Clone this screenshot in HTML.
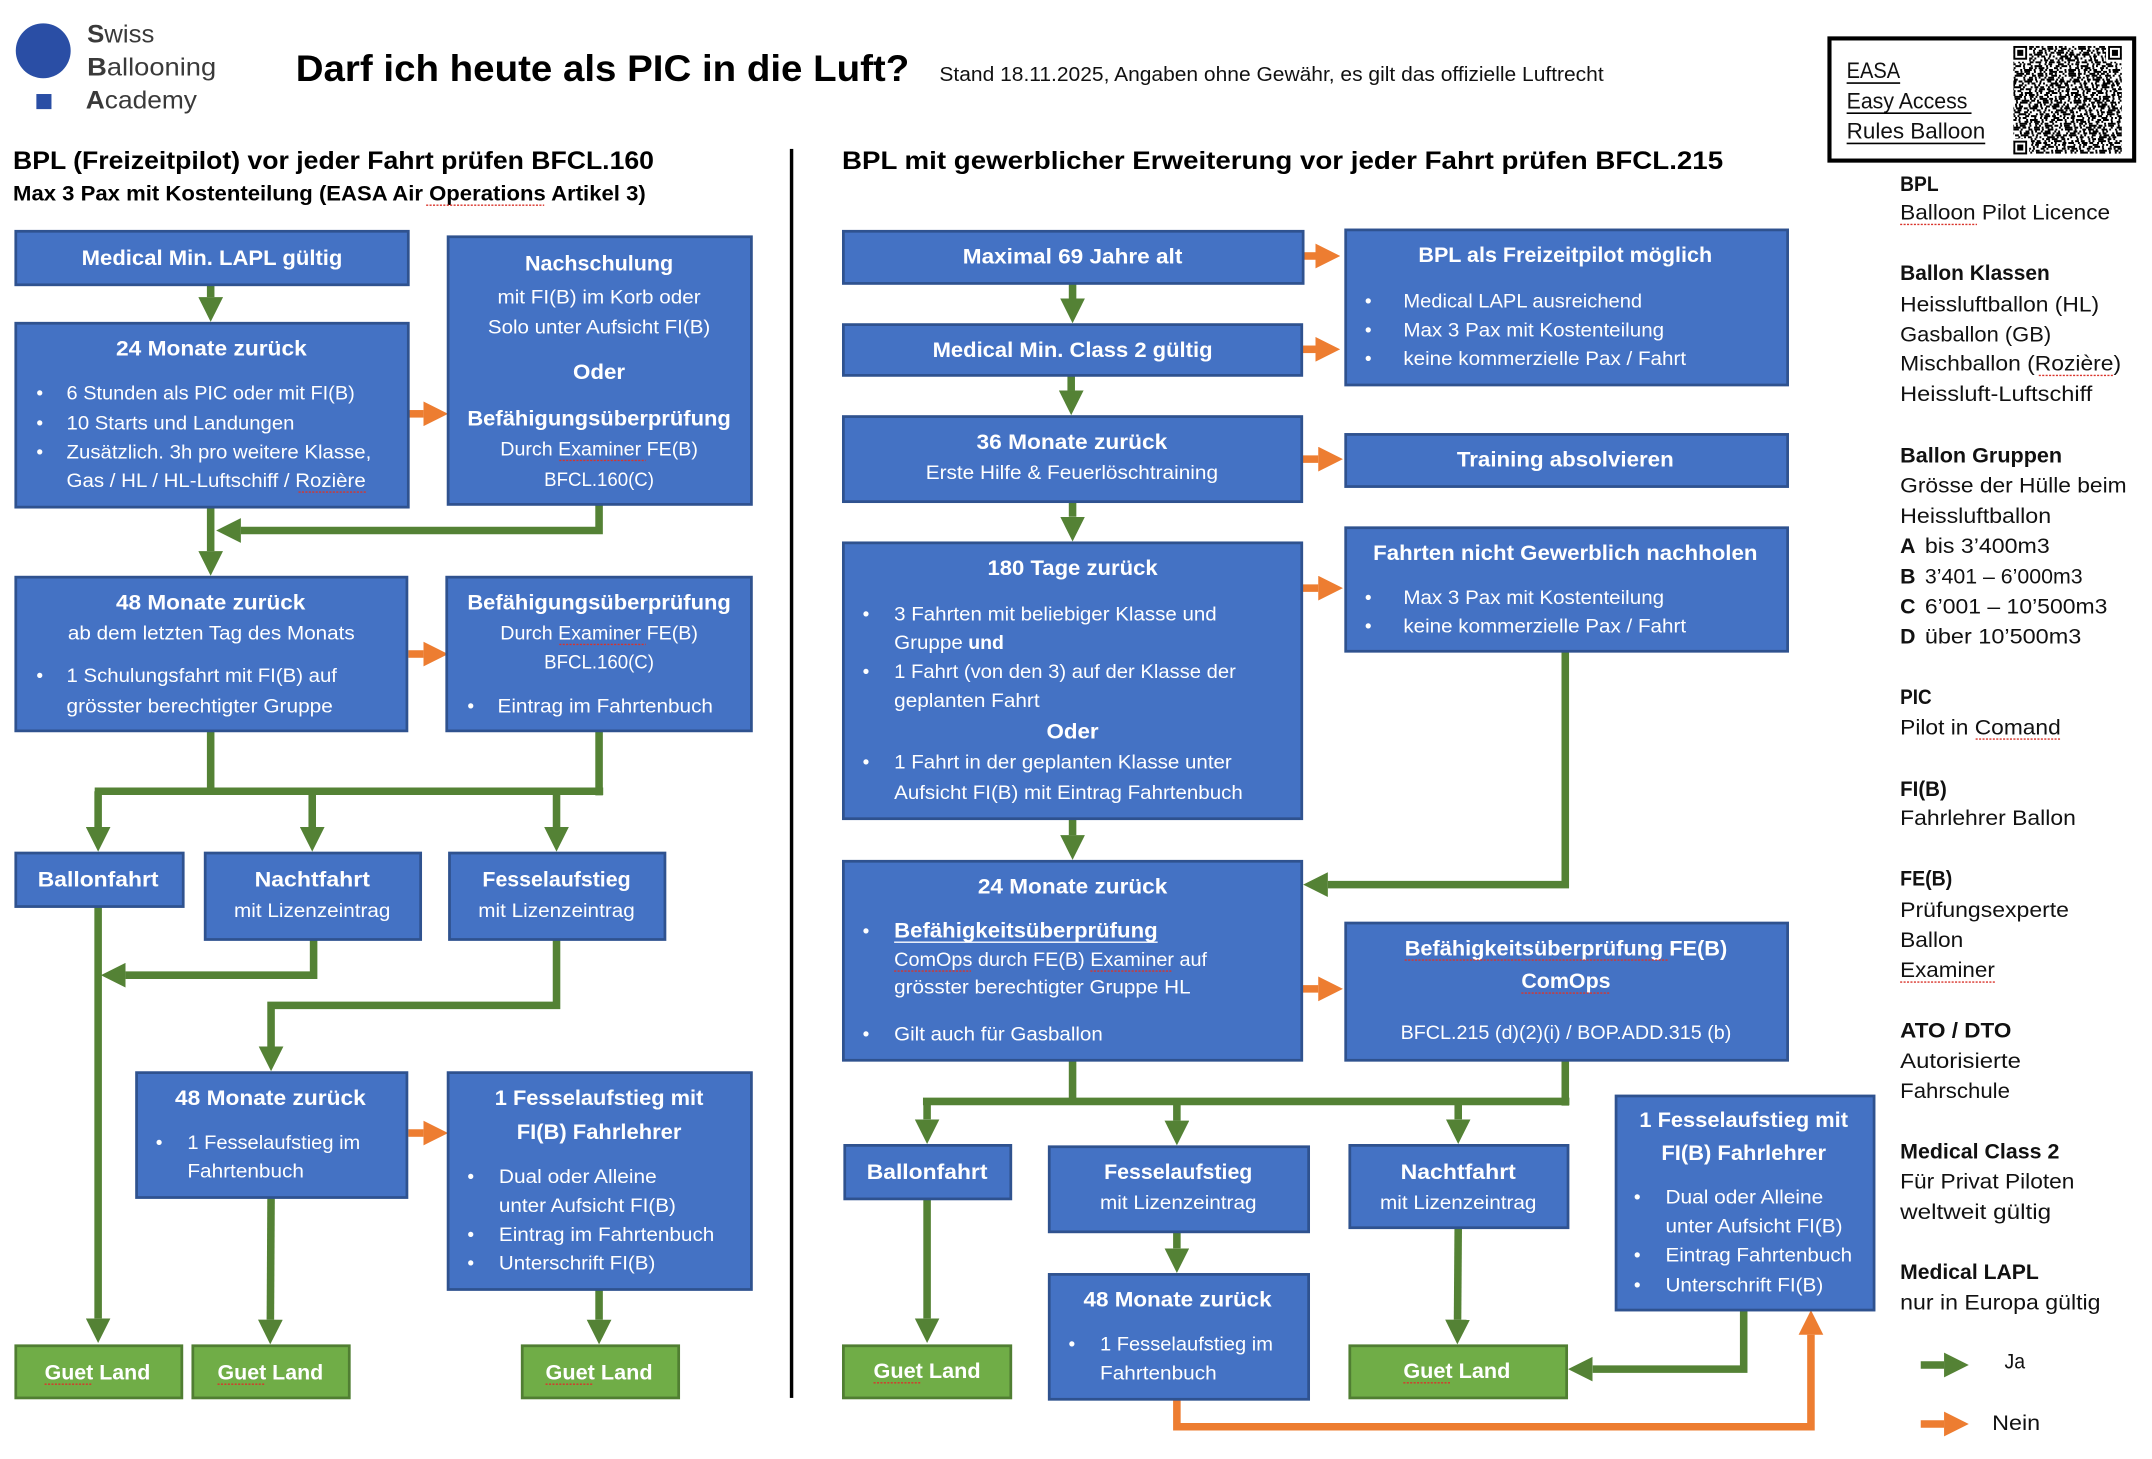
<!DOCTYPE html>
<html lang="de"><head><meta charset="utf-8"><title>Darf ich heute als PIC in die Luft?</title>
<style>
html,body{margin:0;padding:0;background:#fff;width:2152px;height:1459px;overflow:hidden}
svg{display:block}
text{font-family:"Liberation Sans",sans-serif;white-space:pre;transform:translateY(-0.5px)}
.r{font-size:14px;fill:#fff}
.h{font-size:15.5px;fill:#fff;font-weight:700}
.k{font-size:15.5px;fill:#111}
.kb{font-size:15.5px;fill:#111;font-weight:700}
.lg{font-size:18px;fill:#3a3a3a}
.bx{fill:#4472c4;stroke:#2f528f;stroke-width:2}
.gb{fill:#70ad47;stroke:#507e32;stroke-width:2}
.g{fill:none;stroke:#548235;stroke-width:5.5;marker-end:url(#mg)}
.gn{fill:none;stroke:#548235;stroke-width:5.5}
.o{fill:none;stroke:#ed7d31;stroke-width:5.5;marker-end:url(#mo)}
.sq{stroke:#d9342b;stroke-width:1;stroke-dasharray:1.5 1;fill:none}
</style></head><body>
<svg xmlns="http://www.w3.org/2000/svg" width="2152" height="1459" viewBox="0.5 0.5 1568 1063" preserveAspectRatio="none">
<defs>
<marker id="mg" markerUnits="userSpaceOnUse" markerWidth="18" markerHeight="18" refX="0" refY="9" orient="auto" viewBox="0 0 18 18"><path d="M0 0L18 9L0 18Z" fill="#548235"/></marker>
<marker id="mo" markerUnits="userSpaceOnUse" markerWidth="18" markerHeight="18" refX="0" refY="9" orient="auto" viewBox="0 0 18 18"><path d="M0 0L18 9L0 18Z" fill="#ed7d31"/></marker>
<clipPath id="qc"><rect x="1467.5" y="34" width="79" height="79"/></clipPath>
<g id="qr" stroke="#000" stroke-width="1.45" fill="none">
<path stroke-dasharray="1.4 1.4 2.8 1.4 1.4 4.2 1.4 2.8 5.6 1.4 2.8 1.4 1.4 2.8 4.2 1.4" d="M1460 34.7H1640"/>
<path stroke-dasharray="4.2 1.4 1.4 2.8 1.4 1.4 5.6 1.4 1.4 4.2 2.8 1.4 4.2 1.4 1.4 2.8" d="M1463 36.1H1640"/>
<path stroke-dasharray="1.4 2.8 1.4 1.4 4.2 2.8 1.4 1.4 1.4 5.6 1.4 2.8 2.8 1.4 1.4 1.4" d="M1458 37.5H1640"/>
<path stroke-dasharray="2.8 1.4 5.6 1.4 1.4 1.4 2.8 4.2 1.4 1.4 4.2 1.4 1.4 2.8" d="M1461 38.9H1640"/>
<path stroke-dasharray="1.4 1.4 1.4 4.2 2.8 2.8 1.4 1.4 4.2 1.4 2.8 1.4 5.6 2.8" d="M1456 40.3H1640"/>
<path stroke-dasharray="5.6 1.4 1.4 1.4 2.8 4.2 1.4 2.8 1.4 1.4 2.8 2.8 1.4 1.4 1.4 4.2" d="M1464 41.7H1640"/>
<path stroke-dasharray="1.4 4.2 1.4 1.4 2.8 1.4 4.2 2.8 2.8 1.4 1.4 5.6 1.4 1.4" d="M1459 43.1H1640"/>
<path stroke-dasharray="2.8 2.8 1.4 1.4 1.4 2.8 5.6 1.4 1.4 4.2 1.4 1.4 2.8 1.4" d="M1462 44.5H1640"/>
<path stroke-dasharray="1.4 1.4 4.2 1.4 2.8 2.8 1.4 1.4 1.4 4.2 2.8 1.4 4.2 2.8" d="M1457 45.9H1640"/>
<path stroke-dasharray="4.2 2.8 1.4 1.4 1.4 1.4 2.8 5.6 1.4 2.8 1.4 1.4 2.8 4.2" d="M1465 47.3H1640"/>
<path stroke-dasharray="1.4 2.8 2.8 1.4 4.2 1.4 1.4 4.2 1.4 1.4 5.6 2.8 1.4 1.4" d="M1460.5 48.7H1640"/>
<path stroke-dasharray="2.8 1.4 1.4 5.6 1.4 2.8 2.8 1.4 1.4 1.4 4.2 1.4 1.4 4.2" d="M1463.5 50.1H1640"/>
<path stroke-dasharray="1.4 1.4 2.8 2.8 1.4 4.2 1.4 1.4 5.6 1.4 1.4 2.8 2.8 1.4" d="M1458.5 51.5H1640"/>
<path stroke-dasharray="5.6 1.4 2.8 1.4 1.4 1.4 4.2 2.8 1.4 2.8 1.4 1.4 1.4 2.8" d="M1461.5 52.9H1640"/>
</g>
</defs>
<rect width="1569" height="1064" fill="#fff"/>

<!-- logo & header -->
<circle cx="32" cy="37.5" r="20" fill="#2a4ea5"/>
<rect x="27" y="69" width="11" height="11" fill="#2a4ea5"/>
<text class="lg" x="64" y="32" textLength="49" lengthAdjust="spacingAndGlyphs"><tspan font-weight="700">S</tspan>wiss</text>
<text class="lg" x="64" y="56" textLength="94" lengthAdjust="spacingAndGlyphs"><tspan font-weight="700">B</tspan>allooning</text>
<text class="lg" x="63" y="80" textLength="81" lengthAdjust="spacingAndGlyphs"><tspan font-weight="700">A</tspan>cademy</text>
<text x="216" y="60" font-size="27" font-weight="700" fill="#000" textLength="447" lengthAdjust="spacingAndGlyphs">Darf ich heute als PIC in die Luft?</text>
<text x="685" y="60" font-size="14.5" fill="#111" textLength="484" lengthAdjust="spacingAndGlyphs">Stand 18.11.2025, Angaben ohne Gewähr, es gilt das offizielle Luftrecht</text>
<text x="10" y="124" font-size="18.5" font-weight="700" fill="#000" textLength="467" lengthAdjust="spacingAndGlyphs">BPL (Freizeitpilot) vor jeder Fahrt prüfen BFCL.160</text>
<text x="10" y="147" font-size="15.5" font-weight="700" fill="#000" textLength="461" lengthAdjust="spacingAndGlyphs">Max 3 Pax mit Kostenteilung (EASA Air Operations Artikel 3)</text>
<line class="sq" x1="311" y1="150" x2="397" y2="150"/>
<text x="614" y="124" font-size="18.5" font-weight="700" fill="#000" textLength="642" lengthAdjust="spacingAndGlyphs">BPL mit gewerblicher Erweiterung vor jeder Fahrt prüfen BFCL.215</text>
<rect x="576" y="109" width="2.5" height="910" fill="#000"/>

<!-- QR box -->
<rect x="1333.5" y="28.5" width="222" height="89" fill="#fff" stroke="#000" stroke-width="3"/>
<text x="1346" y="58" font-size="16" fill="#111" textLength="39" lengthAdjust="spacingAndGlyphs">EASA</text>
<line x1="1346" y1="61" x2="1385" y2="61" stroke="#000" stroke-width="1.2"/>
<text x="1346" y="80" font-size="16" fill="#111" textLength="88" lengthAdjust="spacingAndGlyphs">Easy Access</text>
<line x1="1346" y1="83" x2="1437" y2="83" stroke="#000" stroke-width="1.2"/>
<text x="1346" y="102" font-size="16" fill="#111" textLength="101" lengthAdjust="spacingAndGlyphs">Rules Balloon</text>
<line x1="1346" y1="105" x2="1447" y2="105" stroke="#000" stroke-width="1.2"/>
<g clip-path="url(#qc)">
<use href="#qr"/>
<use href="#qr" transform="translate(-7.1 19.6)"/>
<use href="#qr" transform="translate(-3.3 39.2)"/>
<use href="#qr" transform="translate(-9.7 58.8)"/>
</g>
<g fill="#fff"><rect x="1467.5" y="34" width="11.5" height="11.5"/><rect x="1535" y="34" width="11.5" height="11.5"/><rect x="1467.5" y="101.5" width="11.5" height="11.5"/></g>
<g fill="none" stroke="#000" stroke-width="1.4"><rect x="1468.2" y="34.7" width="8.6" height="8.6"/><rect x="1537.2" y="34.7" width="8.6" height="8.6"/><rect x="1468.2" y="103.7" width="8.6" height="8.6"/></g>
<g fill="#000"><rect x="1470.3" y="36.8" width="4.4" height="4.4"/><rect x="1539.3" y="36.8" width="4.4" height="4.4"/><rect x="1470.3" y="105.8" width="4.4" height="4.4"/></g>

<!-- connectors -->
<polyline class="g" points="154,207 154,217"/>
<polyline class="g" points="154,369 154,402"/>
<polyline class="g" points="437,367 437,387 176,387"/>
<polyline class="o" points="298,302 309,302"/>
<polyline class="o" points="298,477 309,477"/>
<path class="gn" d="M154 533V577M437 533V580M69.5 577H440"/>
<polyline class="g" points="72,577 72,603"/>
<polyline class="g" points="228,577 228,603"/>
<polyline class="g" points="406,577 406,603"/>
<polyline class="g" points="72,660 72,961"/>
<polyline class="g" points="229,685 229,711 92,711"/>
<polyline class="g" points="406,685 406,733 198,733 198,763"/>
<polyline class="o" points="298,826 309,826"/>
<polyline class="g" points="198,873 197.5,962"/>
<polyline class="g" points="437,940 437,962"/>

<polyline class="o" points="950,187 959,187"/>
<polyline class="g" points="782,207 782,218"/>
<polyline class="o" points="949,255 959,255"/>
<polyline class="g" points="781,274 781,285"/>
<polyline class="o" points="949,335 961,335"/>
<polyline class="g" points="782,366 782,377"/>
<polyline class="o" points="949,429 961,429"/>
<polyline class="g" points="782,597 782,609"/>
<polyline class="g" points="1141,475 1141,645 968,645"/>
<polyline class="o" points="949,721 961,721"/>
<path class="gn" d="M782 773V803M1141 773V806M673 803H1144"/>
<polyline class="g" points="676,803 676,816"/>
<polyline class="g" points="858,803 858,817"/>
<polyline class="g" points="1063,803 1063,816"/>
<polyline class="g" points="676,874 676,961"/>
<polyline class="g" points="858,898 858,910"/>
<polyline class="g" points="1063,895 1062.5,962"/>
<polyline class="g" points="1271,955 1271,998 1161,998"/>
<polyline class="o" points="858,1020 858,1040 1320,1040 1320,973"/>
<polyline class="g" points="1400,995 1417,995"/>
<polyline class="o" points="1400,1038 1417,1038"/>

<!-- left boxes -->
<rect class="bx" x="12" y="169" width="286" height="39"/>
<rect class="bx" x="12" y="236" width="286" height="134"/>
<rect class="bx" x="327" y="173" width="221" height="195"/>
<rect class="bx" x="12" y="421" width="285" height="112"/>
<rect class="bx" x="326" y="421" width="222" height="112"/>
<rect class="bx" x="12" y="622" width="122" height="39"/>
<rect class="bx" x="150" y="622" width="157" height="63"/>
<rect class="bx" x="328" y="622" width="157" height="63"/>
<rect class="bx" x="100" y="782" width="197" height="91"/>
<rect class="bx" x="327" y="782" width="221" height="158"/>
<rect class="gb" x="12" y="981" width="121" height="38"/>
<rect class="gb" x="141" y="981" width="114" height="38"/>
<rect class="gb" x="381" y="981" width="114" height="38"/>

<!-- right boxes -->
<rect class="bx" x="615" y="169" width="335" height="38"/>
<rect class="bx" x="615" y="237" width="334" height="37"/>
<rect class="bx" x="615" y="304" width="334" height="62"/>
<rect class="bx" x="615" y="396" width="334" height="201"/>
<rect class="bx" x="615" y="628" width="334" height="145"/>
<rect class="bx" x="981" y="168" width="322" height="113"/>
<rect class="bx" x="981" y="317" width="322" height="38"/>
<rect class="bx" x="981" y="385" width="322" height="90"/>
<rect class="bx" x="981" y="673" width="322" height="100"/>
<rect class="bx" x="616" y="835" width="121" height="39"/>
<rect class="bx" x="765" y="836" width="189" height="62"/>
<rect class="bx" x="984" y="835" width="159" height="60"/>
<rect class="bx" x="765" y="929" width="189" height="91"/>
<rect class="bx" x="1178" y="799" width="188" height="156"/>
<rect class="gb" x="615" y="981" width="122" height="38"/>
<rect class="gb" x="984" y="981" width="158" height="38"/>

<!-- left text -->
<text class="h" x="60" y="194" textLength="190" lengthAdjust="spacingAndGlyphs">Medical Min. LAPL gültig</text>
<text class="h" x="85" y="260" textLength="139" lengthAdjust="spacingAndGlyphs">24 Monate zurück</text>
<text class="r" x="27" y="292">•</text>
<text class="r" x="49" y="292" textLength="210" lengthAdjust="spacingAndGlyphs">6 Stunden als PIC oder mit FI(B)</text>
<text class="r" x="27" y="314">•</text>
<text class="r" x="49" y="314" textLength="166" lengthAdjust="spacingAndGlyphs">10 Starts und Landungen</text>
<text class="r" x="27" y="335">•</text>
<text class="r" x="49" y="335" textLength="222" lengthAdjust="spacingAndGlyphs">Zusätzlich. 3h pro weitere Klasse,</text>
<text class="r" x="49" y="356" textLength="218" lengthAdjust="spacingAndGlyphs">Gas / HL / HL-Luftschiff / Rozière</text>
<line class="sq" x1="218" y1="359" x2="268" y2="359"/>
<text class="h" x="383" y="198" textLength="108" lengthAdjust="spacingAndGlyphs">Nachschulung</text>
<text class="r" x="363" y="222" textLength="148" lengthAdjust="spacingAndGlyphs">mit FI(B) im Korb oder</text>
<text class="r" x="356" y="244" textLength="162" lengthAdjust="spacingAndGlyphs">Solo unter Aufsicht FI(B)</text>
<text class="h" x="418" y="277" textLength="38" lengthAdjust="spacingAndGlyphs">Oder</text>
<text class="h" x="341" y="311" textLength="192" lengthAdjust="spacingAndGlyphs">Befähigungsüberprüfung</text>
<text class="r" x="365" y="333" textLength="144" lengthAdjust="spacingAndGlyphs">Durch Examiner FE(B)</text>
<line class="sq" x1="408" y1="336" x2="471" y2="336"/>
<text class="r" x="397" y="355" textLength="80" lengthAdjust="spacingAndGlyphs">BFCL.160(C)</text>
<text class="h" x="85" y="445" textLength="138" lengthAdjust="spacingAndGlyphs">48 Monate zurück</text>
<text class="r" x="50" y="467" textLength="209" lengthAdjust="spacingAndGlyphs">ab dem letzten Tag des Monats</text>
<text class="r" x="27" y="498">•</text>
<text class="r" x="49" y="498" textLength="197" lengthAdjust="spacingAndGlyphs">1 Schulungsfahrt mit FI(B) auf</text>
<text class="r" x="49" y="520" textLength="194" lengthAdjust="spacingAndGlyphs">grösster berechtigter Gruppe</text>
<text class="h" x="341" y="445" textLength="192" lengthAdjust="spacingAndGlyphs">Befähigungsüberprüfung</text>
<text class="r" x="365" y="467" textLength="144" lengthAdjust="spacingAndGlyphs">Durch Examiner FE(B)</text>
<line class="sq" x1="408" y1="470" x2="471" y2="470"/>
<text class="r" x="397" y="488" textLength="80" lengthAdjust="spacingAndGlyphs">BFCL.160(C)</text>
<text class="r" x="341" y="520">•</text>
<text class="r" x="363" y="520" textLength="157" lengthAdjust="spacingAndGlyphs">Eintrag im Fahrtenbuch</text>
<text class="h" x="28" y="647" textLength="88" lengthAdjust="spacingAndGlyphs">Ballonfahrt</text>
<text class="h" x="186" y="647" textLength="84" lengthAdjust="spacingAndGlyphs">Nachtfahrt</text>
<text class="r" x="171" y="669" textLength="114" lengthAdjust="spacingAndGlyphs">mit Lizenzeintrag</text>
<text class="h" x="352" y="647" textLength="108" lengthAdjust="spacingAndGlyphs">Fesselaufstieg</text>
<text class="r" x="349" y="669" textLength="114" lengthAdjust="spacingAndGlyphs">mit Lizenzeintrag</text>
<text class="h" x="128" y="806" textLength="139" lengthAdjust="spacingAndGlyphs">48 Monate zurück</text>
<text class="r" x="114" y="838">•</text>
<text class="r" x="137" y="838" textLength="126" lengthAdjust="spacingAndGlyphs">1 Fesselaufstieg im</text>
<text class="r" x="137" y="859" textLength="85" lengthAdjust="spacingAndGlyphs">Fahrtenbuch</text>
<text class="h" x="361" y="806" textLength="152" lengthAdjust="spacingAndGlyphs">1 Fesselaufstieg mit</text>
<text class="h" x="377" y="831" textLength="120" lengthAdjust="spacingAndGlyphs">FI(B) Fahrlehrer</text>
<text class="r" x="341" y="863">•</text>
<text class="r" x="364" y="863" textLength="115" lengthAdjust="spacingAndGlyphs">Dual oder Alleine</text>
<text class="r" x="364" y="884" textLength="129" lengthAdjust="spacingAndGlyphs">unter Aufsicht FI(B)</text>
<text class="r" x="341" y="905">•</text>
<text class="r" x="364" y="905" textLength="157" lengthAdjust="spacingAndGlyphs">Eintrag im Fahrtenbuch</text>
<text class="r" x="341" y="926">•</text>
<text class="r" x="364" y="926" textLength="114" lengthAdjust="spacingAndGlyphs">Unterschrift FI(B)</text>
<text class="h" x="33" y="1006" textLength="77" lengthAdjust="spacingAndGlyphs">Guet Land</text>
<line class="sq" x1="33" y1="1009" x2="67" y2="1009"/>
<text class="h" x="159" y="1006" textLength="77" lengthAdjust="spacingAndGlyphs">Guet Land</text>
<line class="sq" x1="159" y1="1009" x2="193" y2="1009"/>
<text class="h" x="398" y="1006" textLength="78" lengthAdjust="spacingAndGlyphs">Guet Land</text>
<line class="sq" x1="398" y1="1009" x2="432" y2="1009"/>

<!-- right text -->
<text class="h" x="702" y="193" textLength="160" lengthAdjust="spacingAndGlyphs">Maximal 69 Jahre alt</text>
<text class="h" x="1034" y="192" textLength="214" lengthAdjust="spacingAndGlyphs">BPL als Freizeitpilot möglich</text>
<text class="r" x="995" y="225">•</text>
<text class="r" x="1023" y="225" textLength="174" lengthAdjust="spacingAndGlyphs">Medical LAPL ausreichend</text>
<text class="r" x="995" y="246">•</text>
<text class="r" x="1023" y="246" textLength="190" lengthAdjust="spacingAndGlyphs">Max 3 Pax mit Kostenteilung</text>
<text class="r" x="995" y="267">•</text>
<text class="r" x="1023" y="267" textLength="206" lengthAdjust="spacingAndGlyphs">keine kommerzielle Pax / Fahrt</text>
<text class="h" x="680" y="261" textLength="204" lengthAdjust="spacingAndGlyphs">Medical Min. Class 2 gültig</text>
<text class="h" x="712" y="328" textLength="139" lengthAdjust="spacingAndGlyphs">36 Monate zurück</text>
<text class="r" x="675" y="350" textLength="213" lengthAdjust="spacingAndGlyphs">Erste Hilfe &amp; Feuerlöschtraining</text>
<text class="h" x="1062" y="341" textLength="158" lengthAdjust="spacingAndGlyphs">Training absolvieren</text>
<text class="h" x="1001" y="409" textLength="280" lengthAdjust="spacingAndGlyphs">Fahrten nicht Gewerblich nachholen</text>
<text class="r" x="995" y="441">•</text>
<text class="r" x="1023" y="441" textLength="190" lengthAdjust="spacingAndGlyphs">Max 3 Pax mit Kostenteilung</text>
<text class="r" x="995" y="462">•</text>
<text class="r" x="1023" y="462" textLength="206" lengthAdjust="spacingAndGlyphs">keine kommerzielle Pax / Fahrt</text>
<text class="h" x="720" y="420" textLength="124" lengthAdjust="spacingAndGlyphs">180 Tage zurück</text>
<text class="r" x="629" y="453">•</text>
<text class="r" x="652" y="453" textLength="235" lengthAdjust="spacingAndGlyphs">3 Fahrten mit beliebiger Klasse und</text>
<text class="r" x="652" y="474" textLength="50" lengthAdjust="spacingAndGlyphs">Gruppe</text>
<text class="r" x="706" y="474" font-weight="700" textLength="26" lengthAdjust="spacingAndGlyphs">und</text>
<text class="r" x="629" y="495">•</text>
<text class="r" x="652" y="495" textLength="249" lengthAdjust="spacingAndGlyphs">1 Fahrt (von den 3) auf der Klasse der</text>
<text class="r" x="652" y="516" textLength="106" lengthAdjust="spacingAndGlyphs">geplanten Fahrt</text>
<text class="h" x="763" y="539" textLength="38" lengthAdjust="spacingAndGlyphs">Oder</text>
<text class="r" x="629" y="561">•</text>
<text class="r" x="652" y="561" textLength="246" lengthAdjust="spacingAndGlyphs">1 Fahrt in der geplanten Klasse unter</text>
<text class="r" x="652" y="583" textLength="254" lengthAdjust="spacingAndGlyphs">Aufsicht FI(B) mit Eintrag Fahrtenbuch</text>
<text class="h" x="713" y="652" textLength="138" lengthAdjust="spacingAndGlyphs">24 Monate zurück</text>
<text class="r" x="629" y="684">•</text>
<text class="h" x="652" y="684" textLength="192" lengthAdjust="spacingAndGlyphs">Befähigkeitsüberprüfung</text>
<line x1="652" y1="687" x2="844" y2="687" stroke="#fff" stroke-width="1"/>
<text class="r" x="652" y="705" textLength="228" lengthAdjust="spacingAndGlyphs">ComOps durch FE(B) Examiner auf</text>
<line class="sq" x1="652" y1="708" x2="708" y2="708"/>
<line class="sq" x1="795" y1="708" x2="855" y2="708"/>
<text class="r" x="652" y="725" textLength="216" lengthAdjust="spacingAndGlyphs">grösster berechtigter Gruppe HL</text>
<text class="r" x="629" y="759">•</text>
<text class="r" x="652" y="759" textLength="152" lengthAdjust="spacingAndGlyphs">Gilt auch für Gasballon</text>
<text class="h" x="1024" y="697" textLength="235" lengthAdjust="spacingAndGlyphs">Befähigkeitsüberprüfung FE(B)</text>
<line class="sq" x1="1024" y1="700" x2="1216" y2="700"/>
<text class="h" x="1109" y="721" textLength="65" lengthAdjust="spacingAndGlyphs">ComOps</text>
<line class="sq" x1="1109" y1="724" x2="1174" y2="724"/>
<text class="r" x="1021" y="758" textLength="241" lengthAdjust="spacingAndGlyphs">BFCL.215 (d)(2)(i) / BOP.ADD.315 (b)</text>
<text class="h" x="632" y="860" textLength="88" lengthAdjust="spacingAndGlyphs">Ballonfahrt</text>
<text class="h" x="805" y="860" textLength="108" lengthAdjust="spacingAndGlyphs">Fesselaufstieg</text>
<text class="r" x="802" y="882" textLength="114" lengthAdjust="spacingAndGlyphs">mit Lizenzeintrag</text>
<text class="h" x="1021" y="860" textLength="84" lengthAdjust="spacingAndGlyphs">Nachtfahrt</text>
<text class="r" x="1006" y="882" textLength="114" lengthAdjust="spacingAndGlyphs">mit Lizenzeintrag</text>
<text class="h" x="790" y="953" textLength="137" lengthAdjust="spacingAndGlyphs">48 Monate zurück</text>
<text class="r" x="779" y="985">•</text>
<text class="r" x="802" y="985" textLength="126" lengthAdjust="spacingAndGlyphs">1 Fesselaufstieg im</text>
<text class="r" x="802" y="1006" textLength="85" lengthAdjust="spacingAndGlyphs">Fahrtenbuch</text>
<text class="h" x="1195" y="822" textLength="152" lengthAdjust="spacingAndGlyphs">1 Fesselaufstieg mit</text>
<text class="h" x="1211" y="846" textLength="120" lengthAdjust="spacingAndGlyphs">FI(B) Fahrlehrer</text>
<text class="r" x="1191" y="878">•</text>
<text class="r" x="1214" y="878" textLength="115" lengthAdjust="spacingAndGlyphs">Dual oder Alleine</text>
<text class="r" x="1214" y="899" textLength="129" lengthAdjust="spacingAndGlyphs">unter Aufsicht FI(B)</text>
<text class="r" x="1191" y="920">•</text>
<text class="r" x="1214" y="920" textLength="136" lengthAdjust="spacingAndGlyphs">Eintrag Fahrtenbuch</text>
<text class="r" x="1191" y="942">•</text>
<text class="r" x="1214" y="942" textLength="115" lengthAdjust="spacingAndGlyphs">Unterschrift FI(B)</text>
<text class="h" x="637" y="1005" textLength="78" lengthAdjust="spacingAndGlyphs">Guet Land</text>
<line class="sq" x1="637" y1="1008" x2="671" y2="1008"/>
<text class="h" x="1023" y="1005" textLength="78" lengthAdjust="spacingAndGlyphs">Guet Land</text>
<line class="sq" x1="1023" y1="1008" x2="1057" y2="1008"/>

<!-- legend -->
<text class="kb" x="1385" y="140" textLength="28" lengthAdjust="spacingAndGlyphs">BPL</text>
<text class="k" x="1385" y="161" textLength="153" lengthAdjust="spacingAndGlyphs">Balloon Pilot Licence</text>
<line class="sq" x1="1385" y1="164" x2="1441" y2="164"/>
<text class="kb" x="1385" y="205" textLength="109" lengthAdjust="spacingAndGlyphs">Ballon Klassen</text>
<text class="k" x="1385" y="228" textLength="145" lengthAdjust="spacingAndGlyphs">Heissluftballon (HL)</text>
<text class="k" x="1385" y="250" textLength="110" lengthAdjust="spacingAndGlyphs">Gasballon (GB)</text>
<text class="k" x="1385" y="271" textLength="161" lengthAdjust="spacingAndGlyphs">Mischballon (Rozière)</text>
<line class="sq" x1="1486" y1="274" x2="1541" y2="274"/>
<text class="k" x="1385" y="293" textLength="140" lengthAdjust="spacingAndGlyphs">Heissluft-Luftschiff</text>
<text class="kb" x="1385" y="338" textLength="118" lengthAdjust="spacingAndGlyphs">Ballon Gruppen</text>
<text class="k" x="1385" y="360" textLength="165" lengthAdjust="spacingAndGlyphs">Grösse der Hülle beim</text>
<text class="k" x="1385" y="382" textLength="110" lengthAdjust="spacingAndGlyphs">Heissluftballon</text>
<text class="kb" x="1385" y="404">A</text><text class="k" x="1403" y="404" textLength="91" lengthAdjust="spacingAndGlyphs">bis 3’400m3</text>
<text class="kb" x="1385" y="426">B</text><text class="k" x="1403" y="426" textLength="115" lengthAdjust="spacingAndGlyphs">3’401 – 6’000m3</text>
<text class="kb" x="1385" y="448">C</text><text class="k" x="1403" y="448" textLength="133" lengthAdjust="spacingAndGlyphs">6’001 – 10’500m3</text>
<text class="kb" x="1385" y="470">D</text><text class="k" x="1403" y="470" textLength="114" lengthAdjust="spacingAndGlyphs">über 10’500m3</text>
<text class="kb" x="1385" y="514" textLength="23" lengthAdjust="spacingAndGlyphs">PIC</text>
<text class="k" x="1385" y="536" textLength="117" lengthAdjust="spacingAndGlyphs">Pilot in Comand</text>
<line class="sq" x1="1440" y1="539" x2="1502" y2="539"/>
<text class="kb" x="1385" y="581" textLength="34" lengthAdjust="spacingAndGlyphs">FI(B)</text>
<text class="k" x="1385" y="602" textLength="128" lengthAdjust="spacingAndGlyphs">Fahrlehrer Ballon</text>
<text class="kb" x="1385" y="646" textLength="38" lengthAdjust="spacingAndGlyphs">FE(B)</text>
<text class="k" x="1385" y="669" textLength="123" lengthAdjust="spacingAndGlyphs">Prüfungsexperte</text>
<text class="k" x="1385" y="691" textLength="46" lengthAdjust="spacingAndGlyphs">Ballon</text>
<text class="k" x="1385" y="713" textLength="69" lengthAdjust="spacingAndGlyphs">Examiner</text>
<line class="sq" x1="1385" y1="716" x2="1454" y2="716"/>
<text class="kb" x="1385" y="757" textLength="81" lengthAdjust="spacingAndGlyphs">ATO / DTO</text>
<text class="k" x="1385" y="779" textLength="88" lengthAdjust="spacingAndGlyphs">Autorisierte</text>
<text class="k" x="1385" y="801" textLength="80" lengthAdjust="spacingAndGlyphs">Fahrschule</text>
<text class="kb" x="1385" y="845" textLength="116" lengthAdjust="spacingAndGlyphs">Medical Class 2</text>
<text class="k" x="1385" y="867" textLength="127" lengthAdjust="spacingAndGlyphs">Für Privat Piloten</text>
<text class="k" x="1385" y="889" textLength="110" lengthAdjust="spacingAndGlyphs">weltweit gültig</text>
<text class="kb" x="1385" y="933" textLength="101" lengthAdjust="spacingAndGlyphs">Medical LAPL</text>
<text class="k" x="1385" y="955" textLength="146" lengthAdjust="spacingAndGlyphs">nur in Europa gültig</text>
<text class="k" x="1461" y="998" textLength="15" lengthAdjust="spacingAndGlyphs">Ja</text>
<text class="k" x="1452" y="1043" textLength="35" lengthAdjust="spacingAndGlyphs">Nein</text>
</svg>
</body></html>
